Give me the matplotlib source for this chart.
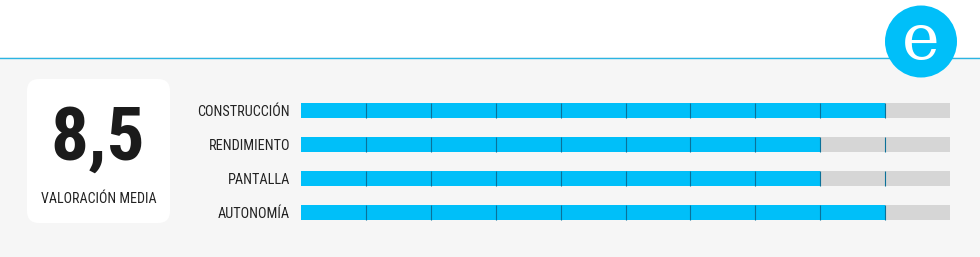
import matplotlib
matplotlib.use("Agg")
import matplotlib.pyplot as plt
from matplotlib.patches import FancyBboxPatch, Circle, Rectangle
import numpy as np

categories = ["CONSTRUCCIÓN", "RENDIMIENTO", "PANTALLA", "AUTONOMÍA"]
scores = [9, 8, 8, 9]
max_score = 10
average_label = "8,5"
average_caption = "VALORACIÓN MEDIA"

BLUE = "#00bff9"
GREY_BAR = "#d6d6d6"
BG = "#f6f6f6"
NARROW = ["Roboto Condensed", "DejaVu Sans"]

W, H = 980, 257
fig = plt.figure(figsize=(W / 100, H / 100), dpi=100, facecolor=BG)

# decoration layer in pixel coordinates
deco = fig.add_axes([0, 0, 1, 1])
deco.set_xlim(0, W)
deco.set_ylim(H, 0)
deco.axis("off")
deco.add_patch(Rectangle((0, 0), W, 57, facecolor="white", edgecolor="none"))
deco.plot([0, W], [57.5, 57.5], color="#2bb5e3", lw=1)
deco.add_patch(FancyBboxPatch((35, 87), 127, 128, boxstyle="round,pad=8,rounding_size=12",
                              facecolor="white", edgecolor="none"))
deco.add_patch(Circle((921, 41.5), 36, facecolor=BLUE, edgecolor="none", zorder=3))
deco.text(921, 41, "e", color="white", fontsize=46, family="DejaVu Serif",
          ha="center", va="center", zorder=4)
deco.text(98, 140, average_label, fontsize=54, fontweight="bold", family=NARROW,
          stretch="condensed", color="#1b1b1b", ha="center", va="center")
deco.text(99, 199, average_caption, fontsize=10.1, family=NARROW,
          stretch="condensed", color="#222222", ha="center", va="center")

# bar chart
left, right = 301, 950
top, bottom = 93.5, 229.5
ax = fig.add_axes([left / W, 1 - bottom / H, (right - left) / W, (bottom - top) / H])
ax.set_facecolor("none")
y = np.arange(len(categories))
ax.barh(y, [max_score] * len(categories), height=0.44, color=GREY_BAR, zorder=1)
ax.barh(y, scores, height=0.44, color=BLUE, zorder=2)
for i in range(len(categories)):
    ax.vlines(np.arange(1, max_score), i - 0.22, i + 0.22, color="#0b7199", lw=0.8, zorder=3)
ax.set_xlim(0, max_score)
ax.set_ylim(len(categories) - 0.5, -0.5)
ax.set_yticks(y)
ax.set_yticklabels(categories, family=NARROW, stretch="condensed", fontsize=10.3, color="#222222")
ax.tick_params(axis="y", length=0, pad=8)
ax.set_xticks([])
for s in ax.spines.values():
    s.set_visible(False)

fig.savefig("out.png", dpi=100, facecolor=BG)
